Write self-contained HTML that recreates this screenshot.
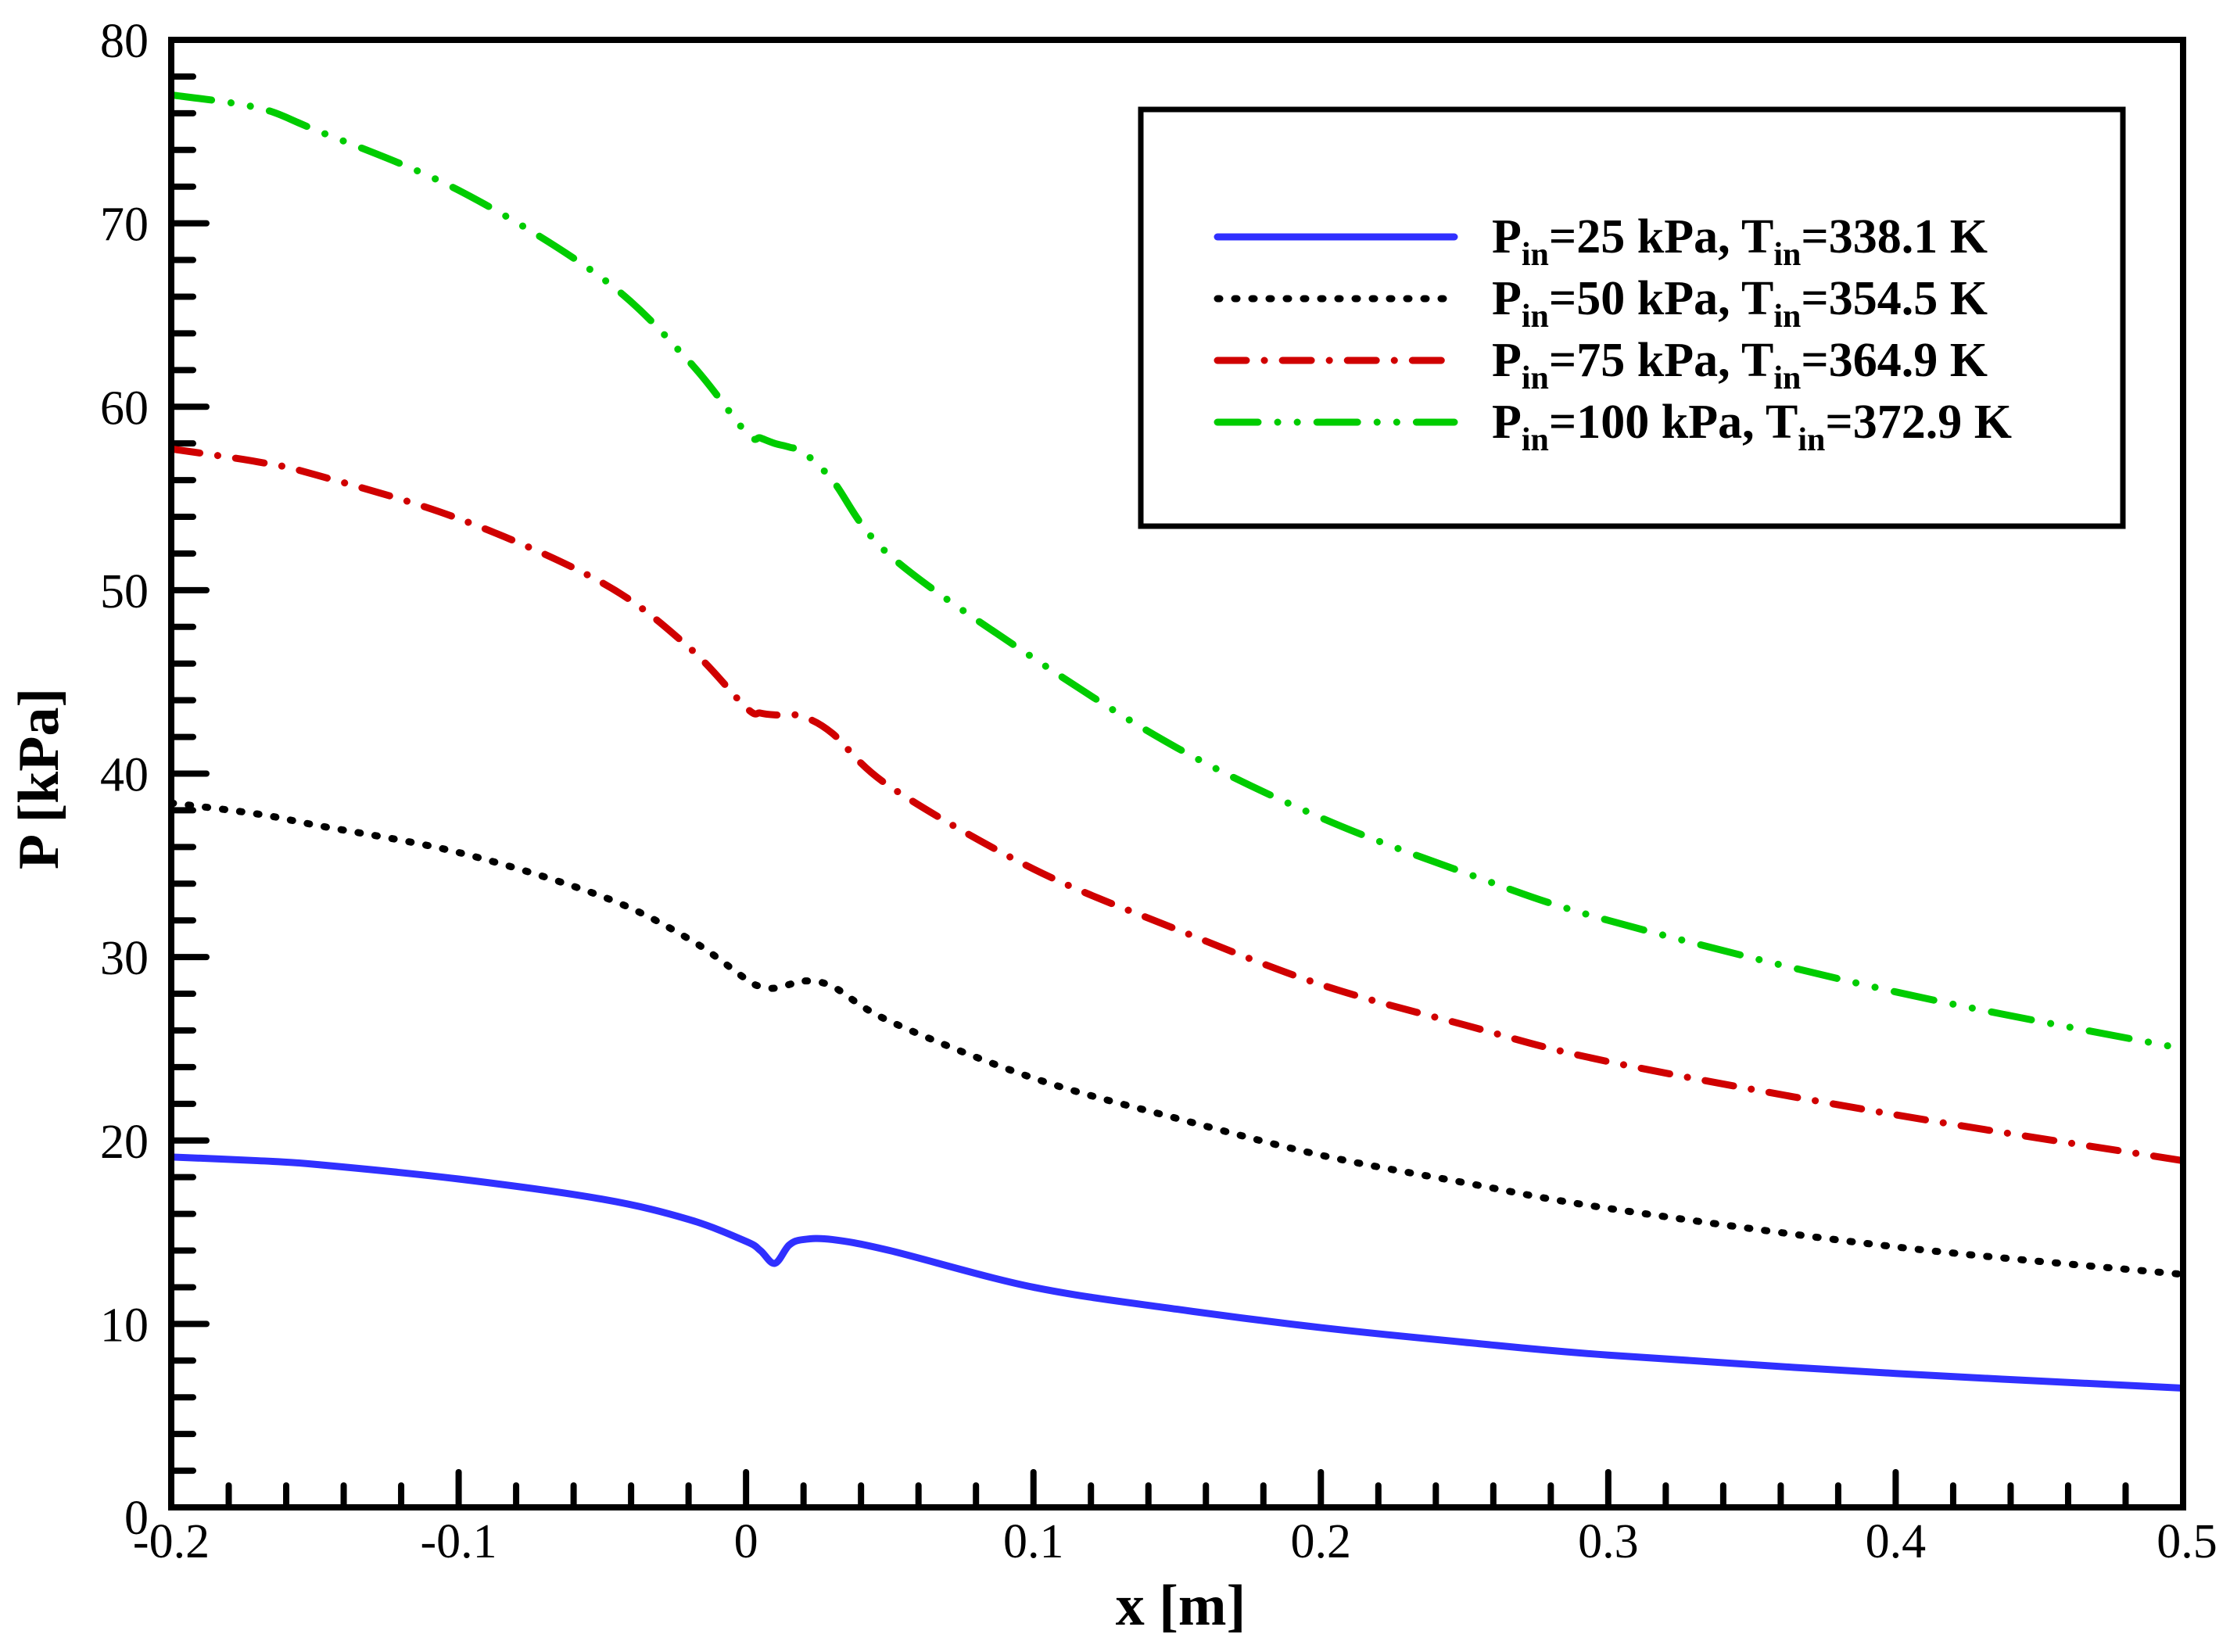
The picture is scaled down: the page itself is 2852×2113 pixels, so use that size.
<!DOCTYPE html>
<html><head><meta charset="utf-8"><style>
html,body{margin:0;padding:0;background:#fff;}
svg{display:block;}
text{font-family:"Liberation Serif",serif;}
</style></head><body>
<svg id="chart" width="2852" height="2113" viewBox="0 0 2852 2113">
<g id="ticks"></g>
<g id="series"></g>
<rect x="219" y="51" width="2573" height="1877" fill="none" stroke="#000" stroke-width="8"/>
<text x="1510" y="2078" font-size="74" font-weight="bold" text-anchor="middle">x [m]</text>
<text x="0" y="0" font-size="74" font-weight="bold" text-anchor="middle" transform="translate(74,996) rotate(-90)">P [kPa]</text>
<g>
<rect x="1459" y="140" width="1256" height="533" fill="#fff" stroke="#000" stroke-width="7"/>
<g id="legend-items"></g>
</g>
</svg>
<script>
const xTicks=[-0.2,-0.1,0,0.1,0.2,0.3,0.4,0.5];
const xTickLabels=["-0.2","-0.1","0","0.1","0.2","0.3","0.4","0.5"];
const yTicks=[0,10,20,30,40,50,60,70,80];
const yTickLabels=["0","10","20","30","40","50","60","70","80"];
const xs=[-0.2,-0.17,-0.15,-0.1,-0.05,-0.02,0,0.005,0.01,0.015,0.02,0.03,0.05,0.1,0.15,0.2,0.25,0.3,0.4,0.5];
const p25=[19.1,18.9,18.7,17.9,16.8,15.7,14.5,14.0,13.3,14.3,14.6,14.6,14.0,12.0,10.8,9.8,9.0,8.3,7.3,6.5];
const p50=[38.4,37.8,37.2,35.7,33.3,31.0,28.8,28.4,28.3,28.5,28.7,28.4,26.5,23.4,21.2,19.2,17.7,16.3,14.2,12.7];
const p75=[57.7,57.0,56.3,53.9,50.4,46.9,43.6,43.3,43.2,43.2,43.1,42.2,39.3,34.8,31.5,28.5,26.3,24.3,21.4,18.9];
const p100=[77.0,76.3,75.1,71.8,67.0,62.5,58.6,58.3,58.0,57.8,57.5,56.0,51.9,46.3,41.4,37.6,34.6,32.0,28.1,25.0];
const seriesLabels=[["25","338.1"],["50","354.5"],["75","364.9"],["100","372.9"]];

const NS="http://www.w3.org/2000/svg";
const L=219,R=2792,T=51,B=1928;
function sx(v){return L+(v-(-0.2))/(0.7)*(R-L);}
function sy(v){return B-(v/80)*(B-T);}
function mk(tag,attrs,parent){const e=document.createElementNS(NS,tag);for(const k in attrs)e.setAttribute(k,attrs[k]);parent.appendChild(e);return e;}

const tg=document.getElementById('ticks');
for(let i=0;i<=35;i++){
  const v=-0.2+i*0.02;const x=sx(v);const major=i%5===0;const len=major?45:28;
  const t=mk('line',{x1:x,y1:B,x2:x,y2:B-len,stroke:'#000','stroke-width':8,'stroke-linecap':'round'},tg);
  
  
}
for(let i=0;i<=40;i++){
  const v=i*2;const y=sy(v);const major=i%5===0;const len=major?45:28;
  const t=mk('line',{x1:L,y1:y,x2:L+len,y2:y,stroke:'#000','stroke-width':8,'stroke-linecap':'round'},tg);
  
  
}
xTicks.forEach((v,i)=>{
  const t=mk('text',{x:sx(v)+(i===xTicks.length-1?5:0),y:1992,'font-size':62,'text-anchor':'middle'},tg);
  t.textContent=xTickLabels[i];
  
  
});
yTicks.forEach((v,i)=>{
  const t=mk('text',{x:190,y:sy(v)+22+(v===0?12:0),'font-size':62,'text-anchor':'end'},tg);
  t.textContent=yTickLabels[i];
  
  
});

function pathFor(ys){
  const pts=xs.map((x,i)=>[sx(x),sy(ys[i])]);
  let d=`M${pts[0][0]},${pts[0][1]}`;
  for(let i=0;i<pts.length-1;i++){
    const p0=pts[i-1]||pts[i],p1=pts[i],p2=pts[i+1],p3=pts[i+2]||p2;
    const c1=[p1[0]+(p2[0]-p0[0])/6,p1[1]+(p2[1]-p0[1])/6];
    const c2=[p2[0]-(p3[0]-p1[0])/6,p2[1]-(p3[1]-p1[1])/6];
    d+=` C${c1[0]},${c1[1]} ${c2[0]},${c2[1]} ${p2[0]},${p2[1]}`;
  }
  return d;
}
const styles=[
  {c:'#3030ff',dash:'none',name:'line-p25'},
  {c:'#000',dash:'3 19',name:'line-p50'},
  {c:'#d00000',dash:'37 23 0.1 23',name:'line-p75'},
  {c:'#00cc00',dash:'52 25 0.1 25 0.1 25',name:'line-p100'}
];
const data=[p25,p50,p75,p100];
const sg=document.getElementById('series');
const clip=mk('clipPath',{id:'pc'},sg);mk('rect',{x:L,y:T,width:R-L,height:B-T},clip);
data.forEach((ys,i)=>{
  const p=mk('path',{d:pathFor(ys),fill:'none',stroke:styles[i].c,'stroke-width':9,'stroke-linecap':'round','stroke-linejoin':'round','clip-path':'url(#pc)'},sg);
  if(styles[i].dash!=='none')p.setAttribute('stroke-dasharray',styles[i].dash);
  
  
});
const lg=document.getElementById('legend-items');
const ly=[303,382,461,540];
seriesLabels.forEach((lab,i)=>{
  const g=mk('g',{},lg);
  
  
  const ln=mk('line',{x1:1557,y1:ly[i],x2:1860,y2:ly[i],stroke:styles[i].c,'stroke-width':9,'stroke-linecap':'round'},g);
  if(styles[i].dash!=='none')ln.setAttribute('stroke-dasharray',styles[i].dash);
  
  
  const t=mk('text',{x:1908,y:ly[i]+20,'font-size':62,'font-weight':'bold'},g);
  t.innerHTML=`P<tspan font-size="42" dy="16">in</tspan><tspan dy="-16">=${lab[0]} kPa, T</tspan><tspan font-size="42" dy="16">in</tspan><tspan dy="-16">=${lab[1]} K</tspan>`;
  
  
});
</script>
</body></html>
